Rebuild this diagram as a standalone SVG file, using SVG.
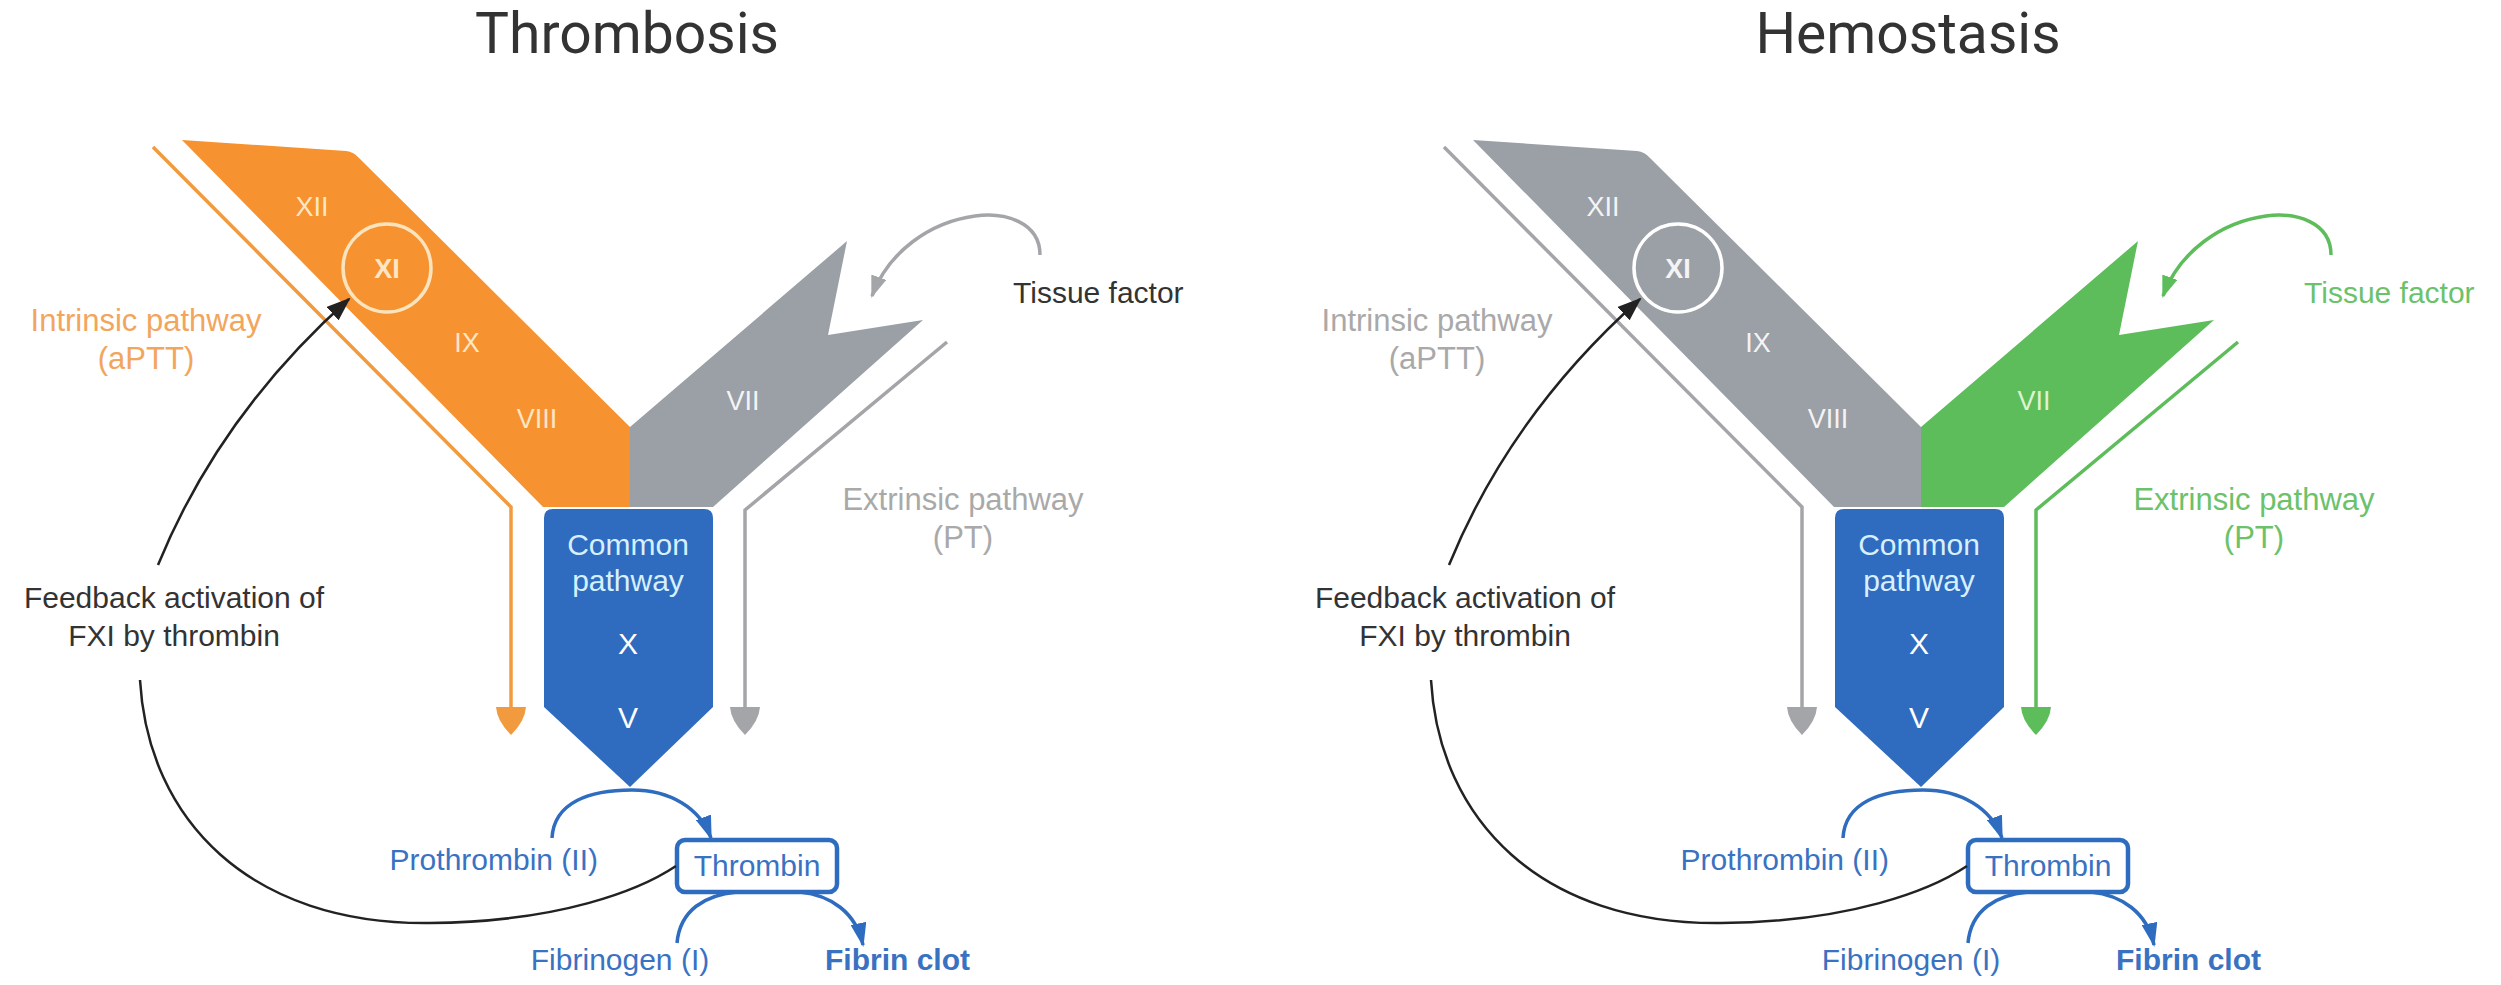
<svg xmlns="http://www.w3.org/2000/svg" width="2501" height="985" viewBox="0 0 2501 985">
<style>
.title{font-family:Roboto,"Liberation Sans",sans-serif;font-size:57px;fill:#333;text-anchor:middle}
.lbl{font-family:"Liberation Sans",Arial,sans-serif;font-size:30px;text-anchor:middle}
.path{font-size:31px}
.num{font-family:"Liberation Sans",Arial,sans-serif;font-size:27px;text-anchor:middle}
.dark{fill:#333}
.blue{fill:#3a72c2}
.orangeT{fill:#f2a55c}
.grayT{fill:#a9a9a9}
.greenT{fill:#6cc26a}
.orange{fill:#f6922f}
.gray{fill:#9b9fa6}
.green{fill:#5dbd5a}
.cream{fill:#fde6c4}
.white{fill:#f4f4f4}
.lineO{fill:none;stroke:#f29a3e;stroke-width:3.5}
.lineG{fill:none;stroke:#a3a5a9;stroke-width:3.5}
.lineN{fill:none;stroke:#5dbd5a;stroke-width:3.5}
.bcurve{fill:none;stroke:#2e6cbf;stroke-width:3.5}
.kcurve{fill:none;stroke:#222;stroke-width:2.5}
</style>
<defs>
<marker id="mb" viewBox="0 0 24 16" refX="22" refY="8" markerWidth="24" markerHeight="16" orient="auto" markerUnits="userSpaceOnUse"><path d="M0,0 L24,8 L0,16 Z" fill="#2e6cbf"/></marker>
<marker id="mk" viewBox="0 0 24 18" refX="22" refY="9" markerWidth="24" markerHeight="18" orient="auto" markerUnits="userSpaceOnUse"><path d="M0,0 L24,9 L0,18 Z" fill="#222"/></marker>
<marker id="mg" viewBox="0 0 22 16" refX="20" refY="8" markerWidth="22" markerHeight="16" orient="auto" markerUnits="userSpaceOnUse"><path d="M0,0 L22,8 L0,16 Z" fill="#a3a5a9"/></marker>
<marker id="mn" viewBox="0 0 22 16" refX="20" refY="8" markerWidth="22" markerHeight="16" orient="auto" markerUnits="userSpaceOnUse"><path d="M0,0 L22,8 L0,16 Z" fill="#5dbd5a"/></marker>
</defs>
<rect width="2501" height="985" fill="#ffffff"/>

<!-- ================= THROMBOSIS ================= -->
<g id="panel-thrombosis">
  <g id="title-thrombosis"><text class="title" x="627" y="53">Thrombosis</text></g>

  <g id="intrinsic-band">
    <path class="orange" d="M182,140 L346,151 Q354,152 359,158 L630,427 L630,507 L543,507 Z"/>
    <text class="num cream" x="312" y="216">XII</text>
    <circle cx="387" cy="268" r="44" fill="none" stroke="#fbe3bd" stroke-width="3.5"/>
    <text class="num cream" x="387" y="278" font-weight="bold">XI</text>
    <text class="num cream" x="467" y="352">IX</text>
    <text class="num cream" x="537" y="428">VIII</text>
  </g>

  <g id="extrinsic-band">
    <path class="gray" d="M630,427 L847,241 L828,335 L923,320 L713,507 L630,507 Z"/>
    <text class="num white" x="743" y="410">VII</text>
  </g>

  <g id="common-pathway">
    <path fill="#2f6bbf" d="M544,518 Q544,509 553,509 L704,509 Q713,509 713,518 L713,707 L630,787 L544,707 Z"/>
    <text class="lbl" x="628" y="555" fill="#d6f0ff">Common</text>
    <text class="lbl" x="628" y="591" fill="#d6f0ff">pathway</text>
    <text class="lbl" x="628" y="654" fill="#ffffff" font-size="29">X</text>
    <text class="lbl" x="628" y="728" fill="#ffffff" font-size="29">V</text>
  </g>

  <g id="thrombin">
    <rect x="677" y="840" width="160" height="52" rx="8" fill="#fff" stroke="#2e6cbf" stroke-width="4.5"/>
    <text class="lbl blue" x="757" y="876" font-size="29">Thrombin</text>
  </g>

  <g id="labels-thrombosis">
    <text class="lbl path orangeT" x="146" y="331">Intrinsic pathway</text>
    <text class="lbl path orangeT" x="146" y="369">(aPTT)</text>
    <text class="lbl path grayT" x="963" y="510">Extrinsic pathway</text>
    <text class="lbl path grayT" x="963" y="548">(PT)</text>
    <text class="lbl dark" x="1013" y="303" font-size="27" style="text-anchor:start">Tissue factor</text>
    <text class="lbl dark" x="174" y="608">Feedback activation of</text>
    <text class="lbl dark" x="174" y="646">FXI by thrombin</text>
    <text class="lbl blue" x="598" y="870" style="text-anchor:end">Prothrombin (II)</text>
    <text class="lbl blue" x="620" y="970">Fibrinogen (I)</text>
    <text class="lbl blue" x="825" y="970" font-size="31" font-weight="bold" style="text-anchor:start">Fibrin clot</text>
  </g>

  <g id="connectors-thrombosis">
    <path class="lineO" d="M153,147 L511,507 L511,712"/>
    <path fill="#f29a3e" d="M496,707 L526,707 Q525,721 511,735 Q497,721 496,707 Z"/>
    <path class="lineG" d="M947,342 L745,510 L745,712"/>
    <path fill="#a3a5a9" d="M730,707 L760,707 Q759,721 745,735 Q731,721 730,707 Z"/>
    <path class="lineG" stroke-width="2.5" marker-end="url(#mg)" d="M1040,255 C1040,222 1005,212 975,216 C930,222 888,252 872,296"/>
    <path class="bcurve" marker-end="url(#mb)" d="M552,838 C554,802 590,790 632,790 C670,790 700,808 711,838"/>
    <path class="bcurve" d="M677,943 C680,910 705,895 737,892"/>
    <path class="bcurve" marker-end="url(#mb)" d="M800,892 C830,895 856,912 863,945"/>
    <path class="kcurve" d="M140,680 C148,820 250,925 430,923 C560,922 640,890 676,866"/>
    <path class="kcurve" marker-end="url(#mk)" d="M158,565 C205,450 275,365 349,299"/>
  </g>
</g>

<!-- ================= HEMOSTASIS ================= -->
<g id="panel-hemostasis">
  <g id="title-hemostasis"><text class="title" x="1908" y="53">Hemostasis</text></g>
  <g transform="translate(1291,0)">
  <g id="intrinsic-band-h">
    <path class="gray" d="M182,140 L346,151 Q354,152 359,158 L630,427 L630,507 L543,507 Z"/>
    <text class="num white" x="312" y="216">XII</text>
    <circle cx="387" cy="268" r="44" fill="none" stroke="#ffffff" stroke-width="3.5"/>
    <text class="num white" x="387" y="278" font-weight="bold">XI</text>
    <text class="num white" x="467" y="352">IX</text>
    <text class="num white" x="537" y="428">VIII</text>
  </g>

  <g id="extrinsic-band-h">
    <path class="green" d="M630,427 L847,241 L828,335 L923,320 L713,507 L630,507 Z"/>
    <text class="num" x="743" y="410" fill="#dff3cf">VII</text>
  </g>

  <g id="common-pathway-h">
    <path fill="#2f6bbf" d="M544,518 Q544,509 553,509 L704,509 Q713,509 713,518 L713,707 L630,787 L544,707 Z"/>
    <text class="lbl" x="628" y="555" fill="#d6f0ff">Common</text>
    <text class="lbl" x="628" y="591" fill="#d6f0ff">pathway</text>
    <text class="lbl" x="628" y="654" fill="#ffffff" font-size="29">X</text>
    <text class="lbl" x="628" y="728" fill="#ffffff" font-size="29">V</text>
  </g>

  <g id="thrombin-h">
    <rect x="677" y="840" width="160" height="52" rx="8" fill="#fff" stroke="#2e6cbf" stroke-width="4.5"/>
    <text class="lbl blue" x="757" y="876" font-size="29">Thrombin</text>
  </g>

  <g id="labels-hemostasis">
    <text class="lbl path grayT" x="146" y="331">Intrinsic pathway</text>
    <text class="lbl path grayT" x="146" y="369">(aPTT)</text>
    <text class="lbl path greenT" x="963" y="510">Extrinsic pathway</text>
    <text class="lbl path greenT" x="963" y="548">(PT)</text>
    <text class="lbl greenT" x="1013" y="303" font-size="27" style="text-anchor:start">Tissue factor</text>
    <text class="lbl dark" x="174" y="608">Feedback activation of</text>
    <text class="lbl dark" x="174" y="646">FXI by thrombin</text>
    <text class="lbl blue" x="598" y="870" style="text-anchor:end">Prothrombin (II)</text>
    <text class="lbl blue" x="620" y="970">Fibrinogen (I)</text>
    <text class="lbl blue" x="825" y="970" font-size="31" font-weight="bold" style="text-anchor:start">Fibrin clot</text>
  </g>

  <g id="connectors-hemostasis">
    <path class="lineG" d="M153,147 L511,507 L511,712"/>
    <path fill="#a3a5a9" d="M496,707 L526,707 Q525,721 511,735 Q497,721 496,707 Z"/>
    <path class="lineN" d="M947,342 L745,510 L745,712"/>
    <path fill="#5dbd5a" d="M730,707 L760,707 Q759,721 745,735 Q731,721 730,707 Z"/>
    <path class="lineN" stroke-width="2.5" marker-end="url(#mn)" d="M1040,255 C1040,222 1005,212 975,216 C930,222 888,252 872,296"/>
    <path class="bcurve" marker-end="url(#mb)" d="M552,838 C554,802 590,790 632,790 C670,790 700,808 711,838"/>
    <path class="bcurve" d="M677,943 C680,910 705,895 737,892"/>
    <path class="bcurve" marker-end="url(#mb)" d="M800,892 C830,895 856,912 863,945"/>
    <path class="kcurve" d="M140,680 C148,820 250,925 430,923 C560,922 640,890 676,866"/>
    <path class="kcurve" marker-end="url(#mk)" d="M158,565 C205,450 275,365 349,299"/>
  </g>
  </g>
</g>
</svg>
